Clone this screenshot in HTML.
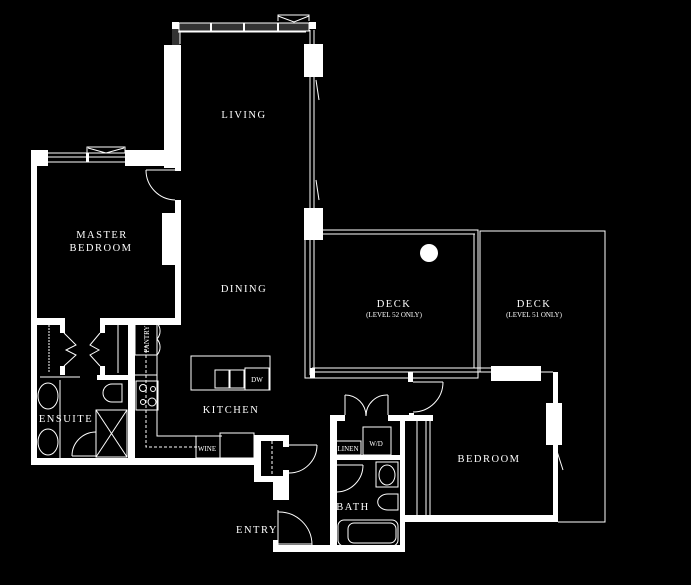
<!DOCTYPE html>
<html><head><style>
html,body{margin:0;padding:0;background:#000;}
svg{display:block;}
text{font-family:"Liberation Serif",serif;fill:#fff;}
</style></head><body>
<svg width="691" height="585" viewBox="0 0 691 585" xmlns="http://www.w3.org/2000/svg">
<rect width="691" height="585" fill="#000"/>
<g fill="#fff">
<!-- living top -->
<rect x="172" y="22" width="7" height="7"/>
<rect x="309" y="22" width="7" height="7"/>
<rect x="164" y="45" width="17" height="123"/>
<rect x="172" y="29" width="8" height="16" fill="#333"/>
<!-- master top -->
<rect x="31" y="150" width="17" height="16"/>
<rect x="125" y="150" width="56" height="16"/>
<rect x="31" y="150" width="6" height="315"/>
<rect x="175" y="200" width="6" height="122"/>
<rect x="162" y="213" width="15" height="52"/>
<rect x="175" y="166" width="6" height="5"/>
<!-- living right blocks -->
<rect x="304" y="44" width="19" height="33"/>
<rect x="304" y="208" width="19" height="32"/>
<!-- closets bottom -->
<rect x="37" y="318" width="27" height="7"/>
<rect x="100" y="318" width="81" height="7"/>
<rect x="60" y="318" width="5" height="15"/>
<rect x="100" y="318" width="5" height="15"/>
<rect x="60" y="366" width="5" height="9"/>
<rect x="100" y="366" width="5" height="9"/>
<rect x="128" y="322" width="7" height="140"/>
<rect x="97" y="375" width="38" height="5"/>
<!-- bottom wall -->
<rect x="31" y="458" width="226" height="7"/>
<!-- entry closet -->
<rect x="254" y="435" width="35" height="6"/>
<rect x="254" y="435" width="7" height="47"/>
<rect x="254" y="476" width="35" height="6"/>
<rect x="283" y="435" width="6" height="12"/>
<rect x="283" y="470" width="6" height="12"/>
<rect x="273" y="476" width="16" height="24"/>
<rect x="273" y="540" width="5" height="10"/>
<rect x="273" y="545" width="62" height="7"/>
<!-- bath/laundry -->
<rect x="330" y="415" width="7" height="137"/>
<rect x="330" y="545" width="75" height="7"/>
<rect x="330" y="415" width="15" height="6"/>
<rect x="388" y="415" width="45" height="6"/>
<rect x="400" y="415" width="5" height="137"/>
<rect x="337" y="455" width="63" height="5"/>
<rect x="405" y="515" width="153" height="7"/>
<rect x="553" y="372" width="5" height="150"/>
<rect x="546" y="403" width="16" height="42"/>
<rect x="491" y="366" width="50" height="15"/>
<rect x="408" y="372" width="5" height="10"/>
<rect x="409" y="413" width="5" height="5"/>
</g>
<g fill="none" stroke="#fff" stroke-width="1">
<!-- top window -->
<rect x="179" y="23" width="130" height="8" fill="#333"/>
<line x1="178" y1="32" x2="306" y2="32"/>
<line x1="180" y1="32" x2="180" y2="44"/>
<polyline points="278,21 278,15 309,15 309,21"/>
<polyline points="278,16 294,22 309,16"/>
<!-- master window -->
<line x1="48" y1="153" x2="125" y2="153"/><line x1="48" y1="157" x2="125" y2="157"/><line x1="48" y1="162" x2="125" y2="162"/>
<polyline points="87,153 87,147 125,147 125,153"/>
<polyline points="88,148 106,153 124,148"/>
<!-- master door -->
<line x1="146" y1="170" x2="175" y2="170"/>
<path d="M146 170 A30 30 0 0 0 175 200"/>
<!-- living right thin wall -->
<line x1="310" y1="30" x2="310" y2="375"/><line x1="314" y1="30" x2="314" y2="375"/>
<line x1="316" y1="80" x2="319" y2="100"/><line x1="316" y1="180" x2="319" y2="200"/>
<!-- deck 52 -->
<rect x="305" y="230" width="173" height="148"/>
<line x1="323" y1="234" x2="475" y2="234"/>
<line x1="474" y1="234" x2="474" y2="368"/>
<line x1="312" y1="372" x2="491" y2="372"/>
<line x1="312" y1="368" x2="491" y2="368"/>
<line x1="541" y1="372" x2="553" y2="372"/>
<!-- deck 51 -->
<polyline points="480,372 480,231 605,231 605,522 558,522"/>
<!-- bedroom door -->
<line x1="413" y1="382" x2="443" y2="382"/>
<path d="M443 382 A30 30 0 0 1 413 412"/>
<!-- laundry double door -->
<line x1="345" y1="395" x2="345" y2="415"/><line x1="388" y1="395" x2="388" y2="415"/>
<path d="M345 395 A21 21 0 0 1 366 416"/><path d="M388 395 A21 21 0 0 0 366 416"/>
<rect x="363" y="427" width="28" height="28"/>
<rect x="336" y="441" width="25" height="14"/>
<!-- bath -->
<line x1="337" y1="465" x2="363" y2="465"/>
<path d="M363 465 A27 27 0 0 1 337 492"/>
<rect x="376" y="462" width="22" height="25"/>
<ellipse cx="387" cy="475" rx="8" ry="10"/>
<path d="M398 494 h-10 a9 7 0 0 0 0 16 h10 z"/>
<rect x="338" y="520" width="60" height="26" rx="6"/>
<rect x="348" y="523" width="48" height="20" rx="6"/>
<!-- bedroom closet -->
<line x1="417" y1="421" x2="417" y2="515"/><line x1="430" y1="421" x2="430" y2="515"/>
<line x1="426" y1="421" x2="426" y2="515"/>
<line x1="555" y1="445" x2="563" y2="470"/>
<!-- pantry, kitchen -->
<rect x="135" y="323" width="22" height="32"/>
<path d="M157 323 a12 12 0 0 1 0 16 a12 12 0 0 1 0 16"/>
<rect x="136" y="381" width="22" height="29"/>
<circle cx="143" cy="388" r="3.5"/><circle cx="153" cy="389" r="2.5"/>
<circle cx="143" cy="402" r="2.5"/><circle cx="152" cy="402" r="4"/>
<polyline points="157,355 157,436 222,436"/>
<polyline points="146,345 146,447 198,447" stroke-dasharray="3,2"/>
<rect x="191" y="356" width="79" height="34"/>
<rect x="215" y="370" width="14" height="18"/><rect x="230" y="370" width="14" height="18"/>
<rect x="245" y="368" width="24" height="22"/>
<rect x="196" y="436" width="24" height="22"/>
<rect x="220" y="433" width="34" height="25"/>
<line x1="135" y1="375" x2="157" y2="375"/>
<!-- closets -->
<line x1="49" y1="325" x2="49" y2="373" stroke-dasharray="2,1"/>
<line x1="118" y1="325" x2="118" y2="373"/>
<polyline points="64,333 76,345 66,350 76,355 64,366"/>
<polyline points="100,333 90,345 99,350 90,355 100,366"/>
<!-- ensuite -->
<line x1="40" y1="377" x2="80" y2="377"/>
<ellipse cx="48" cy="396" rx="10" ry="13"/>
<ellipse cx="48" cy="442" rx="10" ry="13"/>
<line x1="60" y1="380" x2="60" y2="458"/>
<path d="M122 384 h-10 a9 9 0 0 0 0 18 h10 z"/>
<rect x="96" y="410" width="31" height="47"/>
<line x1="96" y1="410" x2="127" y2="457"/><line x1="127" y1="410" x2="96" y2="457"/>
<line x1="72" y1="456" x2="96" y2="456"/>
<path d="M72 456 A24 24 0 0 1 96 432"/>
<!-- entry door -->
<line x1="289" y1="445" x2="317" y2="445"/>
<path d="M317 445 A28 28 0 0 1 289 473"/>
<line x1="272" y1="441" x2="272" y2="476" stroke-dasharray="3,2"/>
<line x1="278" y1="510" x2="278" y2="545"/>
<line x1="278" y1="544" x2="312" y2="544"/>
<path d="M278 512 A33 33 0 0 1 312 545"/>
</g>
<g fill="#fff">
<rect x="210" y="23" width="2" height="8"/><rect x="243" y="23" width="2" height="8"/><rect x="277" y="23" width="2" height="8"/>
<rect x="86" y="153" width="3" height="9"/>
<circle cx="429" cy="253" r="9"/>
<rect x="310" y="368" width="5" height="10"/>
</g>
<g font-size="10.5" letter-spacing="1.5" text-anchor="middle">
<text x="244" y="118">LIVING</text>
<text x="102" y="238">MASTER</text>
<text x="101" y="251">BEDROOM</text>
<text x="244" y="292">DINING</text>
<text x="394" y="307">DECK</text>
<text x="534" y="307">DECK</text>
<text x="231" y="413">KITCHEN</text>
<text x="66" y="422">ENSUITE</text>
<text x="489" y="462">BEDROOM</text>
<text x="257" y="533">ENTRY</text>
<text x="353" y="510">BATH</text>
</g>
<g font-size="7" text-anchor="middle">
<text x="394" y="317">(LEVEL 52 ONLY)</text>
<text x="534" y="317">(LEVEL 51 ONLY)</text>
<text x="348" y="451">LINEN</text>
<text x="376" y="446">W/D</text>
<text x="257" y="382">DW</text>
<text x="207" y="451">WINE</text>
<text transform="translate(149,339) rotate(-90)">PANTRY</text>
</g>
</svg>
</body></html>
